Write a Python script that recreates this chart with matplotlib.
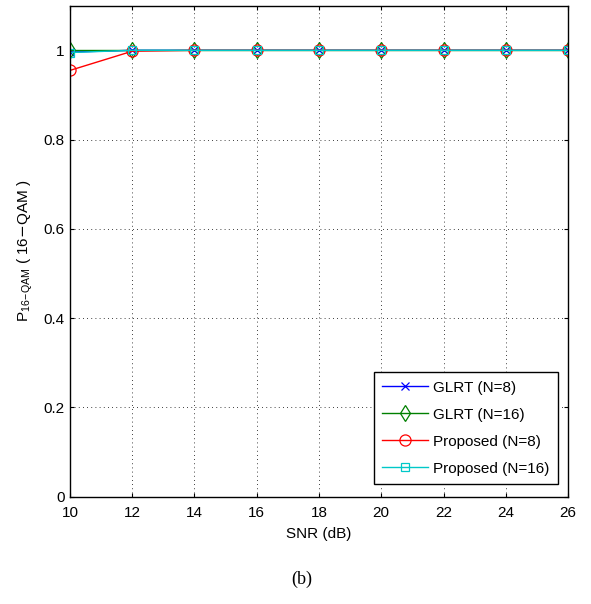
import matplotlib
matplotlib.use("Agg")
import matplotlib.pyplot as plt

# Data
snr = [10, 12, 14, 16, 18, 20, 22, 24, 26]
glrt_n8 = [0.996, 1.0, 1.0, 1.0, 1.0, 1.0, 1.0, 1.0, 1.0]
glrt_n16 = [1.0, 1.0, 1.0, 1.0, 1.0, 1.0, 1.0, 1.0, 1.0]
prop_n8 = [0.955, 0.998, 1.0, 1.0, 1.0, 1.0, 1.0, 1.0, 1.0]
prop_n16 = [0.995, 1.0, 1.0, 1.0, 1.0, 1.0, 1.0, 1.0, 1.0]

x_ticks = [10, 12, 14, 16, 18, 20, 22, 24, 26]
y_ticks = [0, 0.2, 0.4, 0.6, 0.8, 1]
y_tick_labels = ["0", "0.2", "0.4", "0.6", "0.8", "1"]

plt.rcParams["font.family"] = ["Liberation Sans", "DejaVu Sans"]

fig = plt.figure(figsize=(5.91, 6.04), dpi=100)
ax = fig.add_axes([0.1184, 0.1777, 0.8427, 0.8129])

ax.plot(snr, glrt_n8, "-x", color="blue", linewidth=1, markersize=6,
        markeredgewidth=0.9, label="GLRT (N=8)")
ax.plot(snr, glrt_n16, "-d", color="green", linewidth=1, markersize=8,
        markerfacecolor="none", markeredgewidth=0.9, label="GLRT (N=16)")
ax.plot(snr, prop_n8, "-o", color="red", linewidth=1, markersize=8,
        markerfacecolor="none", markeredgewidth=0.9, label="Proposed (N=8)")
ax.plot(snr, prop_n16, "-s", color="#00c8c8", linewidth=1, markersize=6,
        markerfacecolor="none", markeredgewidth=0.9, label="Proposed (N=16)")

ax.set_xlim(10, 26)
ax.set_ylim(0, 1.1)
ax.set_xticks(x_ticks)
ax.set_yticks(y_ticks)
ax.set_yticklabels(y_tick_labels)
ax.tick_params(direction="in", labelsize=11, length=3, top=True, right=True)
ax.tick_params(axis="x", pad=7)
ax.tick_params(axis="y", pad=4)
ax.grid(True, linestyle=(0, (1, 4)), color="black", linewidth=0.6)

for spine in ax.spines.values():
    spine.set_linewidth(1.0)

ax.set_xlabel("SNR (dB)", fontsize=11, labelpad=5)
ax.set_ylabel(r"P$_{\mathregular{16\!-\!QAM}}$ ( 16$-$QAM )", fontsize=11,
              labelpad=6)

leg = ax.legend(loc="lower right", bbox_to_anchor=(0.980, 0.026),
                borderaxespad=0, fontsize=11, fancybox=False, framealpha=1,
                edgecolor="black", handlelength=3.0, handletextpad=0.35,
                labelspacing=0.85, borderpad=0.55)
leg.get_frame().set_linewidth(1.0)

fig.text(0.51, 0.04, "(b)", fontsize=13, ha="center", va="center",
         family=["Liberation Serif", "DejaVu Serif"])

fig.savefig("out.png", dpi=100)
